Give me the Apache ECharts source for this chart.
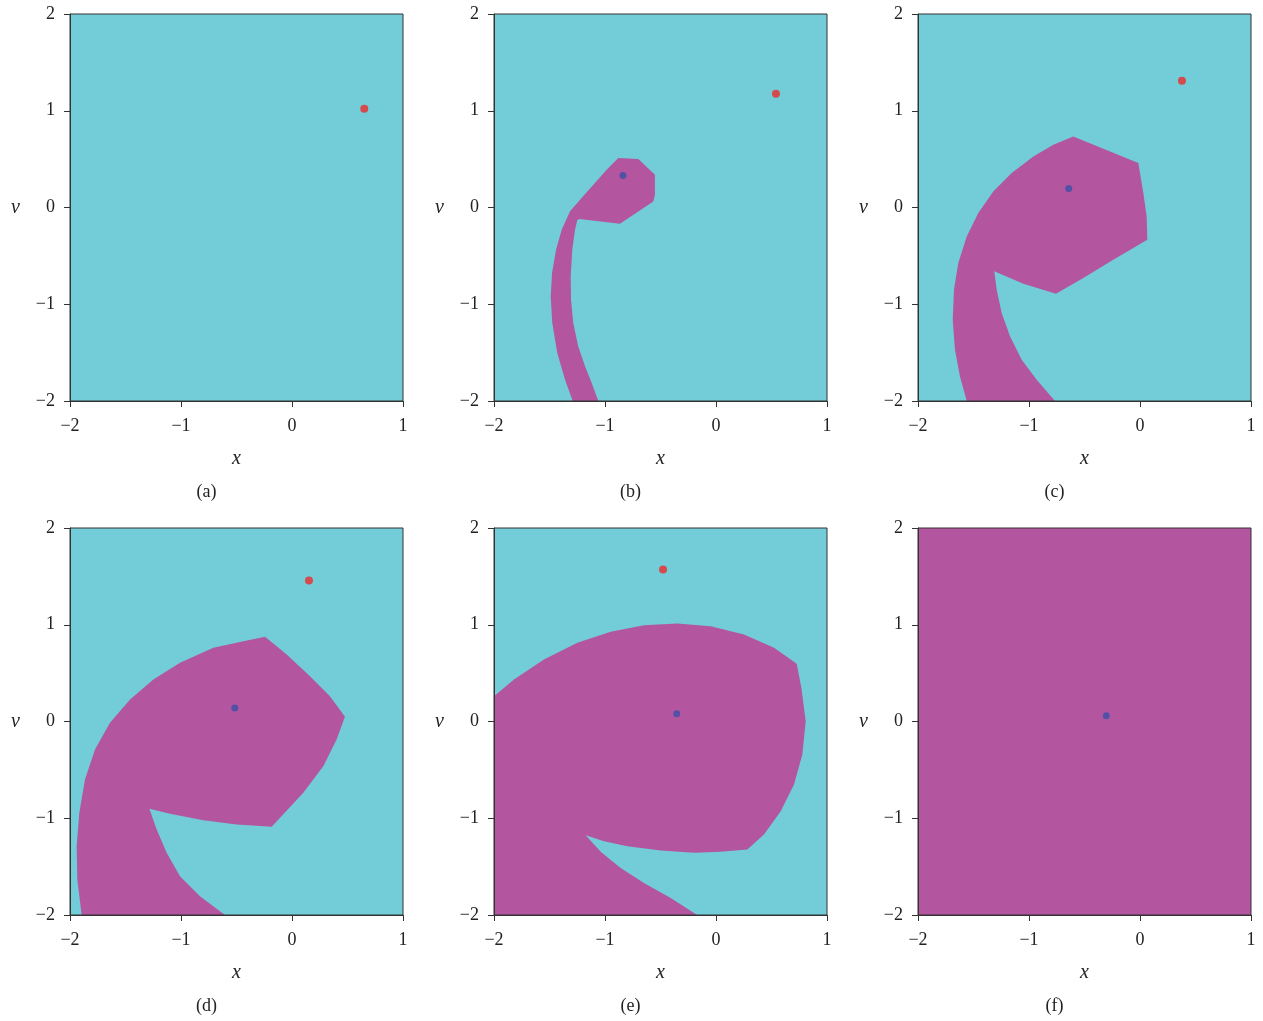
<!DOCTYPE html>
<html>
<head>
<meta charset="utf-8">
<script src="https://cdn.jsdelivr.net/npm/echarts@6/dist/echarts.min.js"></script>
<style>
html,body{margin:0;padding:0;background:#fff;}
#main{width:1263px;height:1021px;}
</style>
</head>
<body>
<div id="main"></div>
<script>
// ---------- data ----------
const captions = ['(a)', '(b)', '(c)', '(d)', '(e)', '(f)'];
const xTicks = [-2, -1, 0, 1];
const yTicks = [-2, -1, 0, 1, 2];
const xName = 'x';
const yName = 'v';

// red dots (panel a..e), null = none
const redDots = [[0.651, 1.02], [0.54, 1.176], [0.378, 1.31], [0.153, 1.457], [-0.477, 1.571], null];
// blue dots (panel b..f)
const blueDots = [null, [-0.838, 0.33], [-0.642, 0.197], [-0.516, 0.14], [-0.354, 0.08], [-0.304, 0.059]];

// full plotting box in data units
const fullBox = [[-2, -2], [1, -2], [1, 2], [-2, 2]];

// magenta basin regions (data units)
const regionA = [];
const regionB = [
  [-0.880, 0.512], [-0.700, 0.501], [-0.550, 0.339], [-0.550, 0.132], [-0.565, 0.063],
  [-0.865, -0.167], [-1.232, -0.119], [-1.250, -0.133], [-1.270, -0.229], [-1.295, -0.436],
  [-1.309, -0.712], [-1.306, -0.953], [-1.286, -1.194], [-1.241, -1.436], [-1.180, -1.642],
  [-1.120, -1.814], [-1.060, -2.0], [-1.291, -2.0], [-1.360, -1.780], [-1.430, -1.504],
  [-1.475, -1.194], [-1.489, -0.919], [-1.477, -0.677], [-1.441, -0.436], [-1.390, -0.229],
  [-1.315, -0.040], [-1.225, 0.081], [-1.105, 0.236], [-0.985, 0.391]
];
const regionC = [
  [-0.601, 0.735], [-0.015, 0.460], [0.030, 0.150], [0.060, -0.092], [0.066, -0.333],
  [-0.241, -0.540], [-0.511, -0.729], [-0.757, -0.891], [-1.051, -0.788], [-1.313, -0.660],
  [-1.291, -0.850], [-1.246, -1.090], [-1.171, -1.332], [-1.066, -1.573], [-0.931, -1.780],
  [-0.766, -2.0], [-1.561, -2.0], [-1.622, -1.746], [-1.667, -1.470], [-1.687, -1.160],
  [-1.676, -0.850], [-1.637, -0.574], [-1.561, -0.299], [-1.457, -0.057], [-1.322, 0.166],
  [-1.156, 0.357], [-0.961, 0.528], [-0.781, 0.649]
];
const regionD = [
  [-0.243, 0.875], [-0.048, 0.693], [0.162, 0.468], [0.342, 0.262], [0.477, 0.048],
  [0.402, -0.186], [0.282, -0.462], [0.102, -0.737], [-0.183, -1.089], [-0.498, -1.065],
  [-0.799, -1.020], [-1.099, -0.954], [-1.285, -0.903], [-1.219, -1.116], [-1.129, -1.357],
  [-1.009, -1.599], [-0.829, -1.806], [-0.604, -2.0], [-1.895, -2.0], [-1.934, -1.633],
  [-1.940, -1.289], [-1.916, -0.944], [-1.865, -0.599], [-1.775, -0.289], [-1.640, -0.014],
  [-1.459, 0.227], [-1.249, 0.434], [-1.009, 0.606], [-0.709, 0.761], [-0.438, 0.830]
];
const regionE = [
  [-2.0, 0.262], [-1.820, 0.434], [-1.550, 0.641], [-1.249, 0.813], [-0.949, 0.927],
  [-0.649, 0.995], [-0.348, 1.013], [-0.048, 0.985], [0.252, 0.899], [0.523, 0.761],
  [0.727, 0.596], [0.769, 0.348], [0.808, 0.003], [0.778, -0.341], [0.703, -0.651],
  [0.583, -0.927], [0.432, -1.168], [0.282, -1.323], [0.042, -1.347], [-0.198, -1.357],
  [-0.498, -1.333], [-0.799, -1.289], [-1.009, -1.237], [-1.174, -1.175], [-1.039, -1.347],
  [-0.859, -1.513], [-0.649, -1.668], [-0.408, -1.823], [-0.170, -2.0], [-2.0, -2.0]
];
const regionF = fullBox;
const regions = [regionA, regionB, regionC, regionD, regionE, regionF];

// ---------- styling / layout ----------
const CYAN = '#72CDD8';
const MAGENTA = '#B455A0';
const RED = '#EE2B2B';
const BLUE = '#3A50A8';
const AXIS = '#333333';
const FONT = '"Liberation Serif", "DejaVu Serif", serif';

const lefts = [70, 494, 918];
const tops = [14, 528];
const W = 333, H = 387;

const minus = v => (v < 0 ? '\u2212' + Math.abs(v) : String(v));

const grids = [], xAxes = [], yAxes = [], series = [], graphics = [];

for (let i = 0; i < 6; i++) {
  const col = i % 3, row = Math.floor(i / 3);
  const left = lefts[col], top = tops[row];
  grids.push({
    left: left, top: top, width: W, height: H,
    show: true, backgroundColor: 'rgba(0,0,0,0)',
    borderColor: AXIS, borderWidth: 1, z: 10
  });
  xAxes.push({
    gridIndex: i, type: 'value', min: xTicks[0], max: xTicks[xTicks.length - 1], interval: 1,
    name: xName, nameLocation: 'middle', nameGap: 48,
    nameTextStyle: { fontFamily: FONT, fontStyle: 'italic', fontSize: 20, color: '#222' },
    axisLine: { show: true, onZero: false, lineStyle: { color: AXIS, width: 1 } },
    axisTick: { show: true, length: 6, lineStyle: { color: AXIS } },
    axisLabel: { margin: 16, fontFamily: FONT, fontSize: 18, color: '#222', formatter: minus },
    splitLine: { show: false }, z: 11
  });
  yAxes.push({
    gridIndex: i, type: 'value', min: yTicks[0], max: yTicks[yTicks.length - 1], interval: 1,
    name: yName, nameLocation: 'middle', nameGap: 50, nameRotate: 0,
    nameTextStyle: { fontFamily: FONT, fontStyle: 'italic', fontSize: 20, color: '#222' },
    axisLine: { show: true, onZero: false, lineStyle: { color: AXIS, width: 1 } },
    axisTick: { show: true, length: 6, lineStyle: { color: AXIS } },
    axisLabel: { margin: 15, fontFamily: FONT, fontSize: 18, color: '#222', formatter: minus },
    splitLine: { show: false }, z: 11
  });

  // cyan background box
  series.push({
    type: 'custom', xAxisIndex: i, yAxisIndex: i, clip: true, silent: true, z: 1,
    data: fullBox,
    renderItem: (params, api) => {
      if (params.dataIndex !== 0) return null;
      return { type: 'polygon', shape: { points: fullBox.map(p => api.coord(p)) }, style: { fill: CYAN } };
    }
  });
  // magenta region
  const reg = regions[i];
  if (reg.length) {
    series.push({
      type: 'custom', xAxisIndex: i, yAxisIndex: i, clip: true, silent: true, z: 2,
      data: reg,
      renderItem: (params, api) => {
        if (params.dataIndex !== 0) return null;
        return { type: 'polygon', shape: { points: reg.map(p => api.coord(p)) }, style: { fill: MAGENTA } };
      }
    });
  }
  if (redDots[i]) {
    series.push({
      type: 'scatter', xAxisIndex: i, yAxisIndex: i, symbol: 'circle', symbolSize: 8,
      itemStyle: { color: RED }, data: [redDots[i]], z: 5, silent: true
    });
  }
  if (blueDots[i]) {
    series.push({
      type: 'scatter', xAxisIndex: i, yAxisIndex: i, symbol: 'circle', symbolSize: 7,
      itemStyle: { color: BLUE }, data: [blueDots[i]], z: 5, silent: true
    });
  }
  graphics.push({
    type: 'text', x: left + W / 2 - 30, y: top + H + 91,
    style: { text: captions[i], fontFamily: FONT, fontSize: 18, fill: '#222', textAlign: 'center', textVerticalAlign: 'middle' }
  });
}

const chart = echarts.init(document.getElementById('main'), null, { renderer: 'canvas' });
chart.setOption({
  animation: false,
  backgroundColor: '#ffffff',
  grid: grids,
  xAxis: xAxes,
  yAxis: yAxes,
  series: series,
  graphic: graphics
});
</script>
</body>
</html>
